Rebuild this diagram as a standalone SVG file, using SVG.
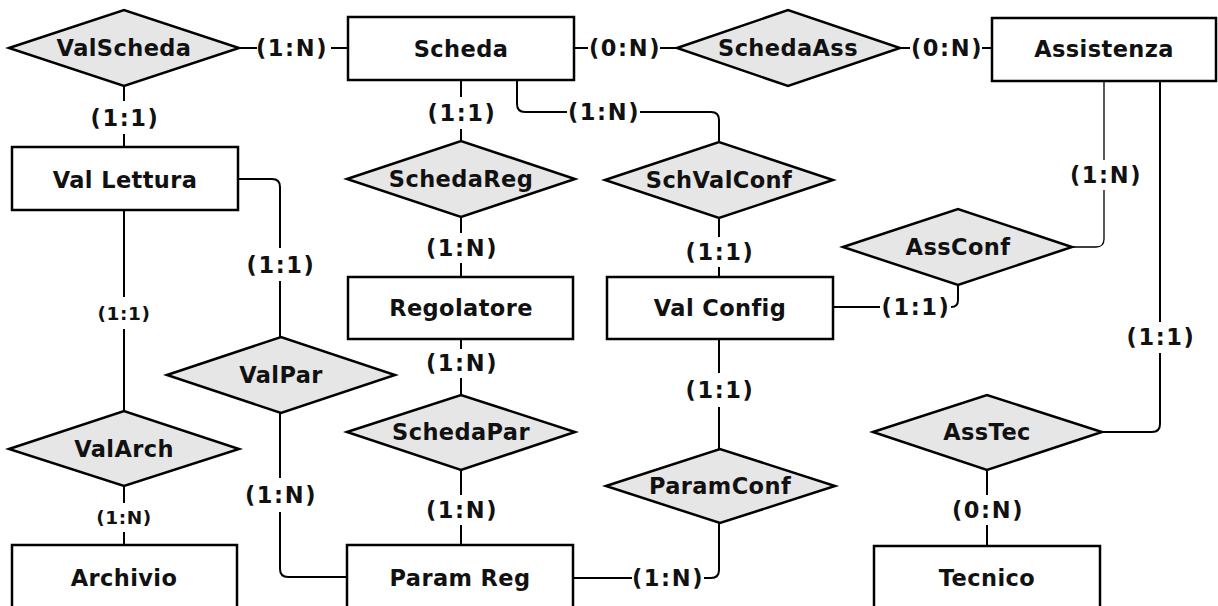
<svg xmlns="http://www.w3.org/2000/svg" width="1218" height="606" viewBox="0 0 1218 606">
<style>
.ent{fill:#fff;stroke:#000;stroke-width:2.5}
.rel{fill:#e6e6e6;stroke:#000;stroke-width:2.5;stroke-linejoin:miter}
.t{font-family:"DejaVu Sans","Verdana",sans-serif;font-weight:bold;font-size:22.5px;letter-spacing:0.4px;text-anchor:middle;fill:#111}
.l{letter-spacing:1.6px}
.c{fill:none;stroke:#000;stroke-width:2}
.thin{stroke-width:1.3}
.s{font-size:18.5px;letter-spacing:0.6px}
</style>
<rect width="1218" height="606" fill="#fff"/>
<g id="connectors">
<path class="c" d="M239,48H257M331,48H348"/>
<path class="c" d="M124,86V101M124,134V147"/>
<path class="c" d="M124,210V297M124,329V412"/>
<path class="c" d="M124,486V503M124,532V545"/>
<path class="c" d="M238,179H272Q280,179 280,187V248M280,281V337"/>
<path class="c" d="M280,413V478M280,512V569Q280,577 288,577H348"/>
<path class="c" d="M461,80V97M461,129V141"/>
<path class="c" d="M461,217V233M461,263V277"/>
<path class="c" d="M461,339V349M461,378V395"/>
<path class="c" d="M461,470V495M461,525V545"/>
<path class="c" d="M517,80V104Q517,112 525,112H567M640,112H711Q719,112 719,120V142"/>
<path class="c" d="M574,48H588M660,48H677"/>
<path class="c" d="M900,48H910M982,48H992"/>
<path class="c" d="M719,218V237M719,267V277"/>
<path class="c" d="M719,339V373M719,407V449"/>
<path class="c" d="M719,523V570Q719,578 711,578H704M632,578H573"/>
<path class="c" d="M833,307H880M951,307Q958,307 958,300V285"/>
<path class="c thin" d="M1072,247H1096Q1104,247 1104,239V190M1104,160V81"/>
<path class="c" d="M1160,81V322M1160,353V424Q1160,432 1152,432H1102"/>
<path class="c" d="M987,470V495M987,525V546"/>
<text class="t l" x="292" y="56">(1:N)</text>
<text class="t l" x="125" y="126">(1:1)</text>
<text class="t s" x="124" y="320">(1:1)</text>
<text class="t s" x="124" y="524">(1:N)</text>
<text class="t l" x="281" y="273">(1:1)</text>
<text class="t l" x="281" y="503">(1:N)</text>
<text class="t l" x="462" y="121">(1:1)</text>
<text class="t l" x="462" y="256">(1:N)</text>
<text class="t l" x="462" y="371">(1:N)</text>
<text class="t l" x="462" y="518">(1:N)</text>
<text class="t l" x="604" y="120">(1:N)</text>
<text class="t l" x="625" y="56">(0:N)</text>
<text class="t l" x="947" y="56">(0:N)</text>
<text class="t l" x="720" y="260">(1:1)</text>
<text class="t l" x="720" y="398">(1:1)</text>
<text class="t l" x="668" y="586">(1:N)</text>
<text class="t l" x="916" y="315">(1:1)</text>
<text class="t l" x="1106" y="183">(1:N)</text>
<text class="t l" x="1161" y="345">(1:1)</text>
<text class="t l" x="988" y="518">(0:N)</text>
</g>
<g id="Scheda"><rect class="ent" x="348" y="17" width="226" height="63"/><text class="t" x="461" y="57">Scheda</text></g>
<g id="Assistenza"><rect class="ent" x="992" y="18" width="224" height="63"/><text class="t" x="1104" y="57">Assistenza</text></g>
<g id="ValLettura"><rect class="ent" x="12" y="147" width="226" height="63"/><text class="t" x="125" y="188">Val Lettura</text></g>
<g id="Regolatore"><rect class="ent" x="348" y="277" width="225" height="62"/><text class="t" x="461" y="316">Regolatore</text></g>
<g id="ValConfig"><rect class="ent" x="607" y="277" width="226" height="62"/><text class="t" x="720" y="316">Val Config</text></g>
<g id="Archivio"><rect class="ent" x="12" y="545" width="225" height="70"/><text class="t" x="124" y="586">Archivio</text></g>
<g id="ParamReg"><rect class="ent" x="347" y="545" width="226" height="70"/><text class="t" x="460" y="586">Param Reg</text></g>
<g id="Tecnico"><rect class="ent" x="874" y="546" width="226" height="70"/><text class="t" x="987" y="586">Tecnico</text></g>
<g id="ValScheda"><polygon class="rel" points="9,48 124,10 239,48 124,86"/><text class="t" x="124" y="56">ValScheda</text></g>
<g id="SchedaAss"><polygon class="rel" points="677,48 788,10 900,48 788,86"/><text class="t" x="788" y="56">SchedaAss</text></g>
<g id="SchedaReg"><polygon class="rel" points="347,179 461,141 575,179 461,217"/><text class="t" x="461" y="187">SchedaReg</text></g>
<g id="SchValConf"><polygon class="rel" points="605,180 719,142 833,180 719,218"/><text class="t" x="719" y="188">SchValConf</text></g>
<g id="AssConf"><polygon class="rel" points="843,247 958,209 1072,247 958,285"/><text class="t" x="958" y="255">AssConf</text></g>
<g id="ValPar"><polygon class="rel" points="167,375 281,337 395,375 281,413"/><text class="t" x="281" y="383">ValPar</text></g>
<g id="ValArch"><polygon class="rel" points="9,449 124,411 239,449 124,486"/><text class="t" x="124" y="457">ValArch</text></g>
<g id="SchedaPar"><polygon class="rel" points="347,432 461,395 575,432 461,470"/><text class="t" x="461" y="440">SchedaPar</text></g>
<g id="ParamConf"><polygon class="rel" points="606,486 720,449 835,486 720,523"/><text class="t" x="720" y="494">ParamConf</text></g>
<g id="AssTec"><polygon class="rel" points="873,432 987,395 1102,432 987,470"/><text class="t" x="987" y="440">AssTec</text></g>
</svg>
